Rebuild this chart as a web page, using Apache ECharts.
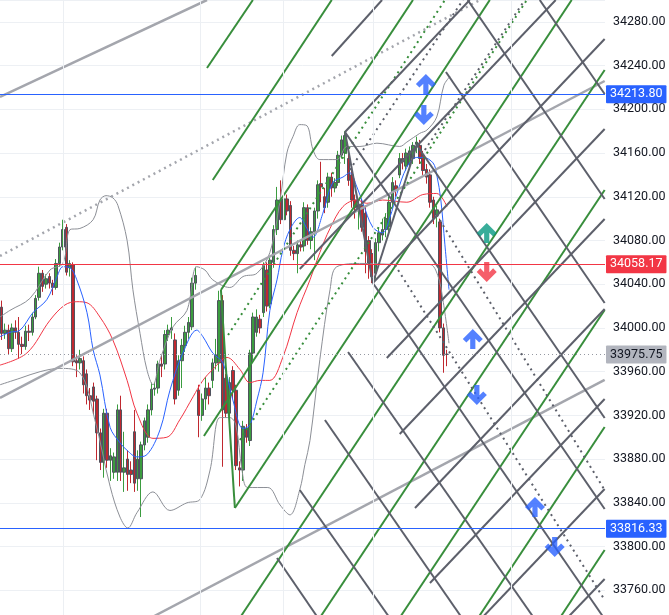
<!DOCTYPE html>
<html>
<head>
<meta charset="utf-8">
<script src="https://cdn.jsdelivr.net/npm/echarts@6/dist/echarts.min.js"></script>
<style>
  html, body { margin: 0; padding: 0; overflow: hidden; background: #fff; }
  #chart { width: 669px; height: 634px; }
</style>
</head>
<body>
<div id="chart"></div>
<script>
// candles: [open, close, low, high]
const candles = [
  [34019,33995,33989,34025],[33995,33998,33990,34004],[33998,33981,33976,34003],[33981,34000,33978,34004],
  [34000,33996,33990,34007],[33996,33985,33972,34010],[33985,33983,33976,33992],[33983,33997,33980,34002],
  [33997,33996,33988,34003],[33996,34010,33993,34014],[34010,34027,34008,34030],[34028,34050,34025,34056],
  [34050,34038,34033,34053],[34040,34045,34036,34049],[34047,34041,34036,34050],[34041,34037,34030,34044],
  [34037,34059,34035,34063],[34059,34074,34056,34078],[34074,34090,34071,34099],[34092,34051,34048,34095],
  [34055,34059,34047,34062],[34058,33969,33965,34060],[33970,33968,33955,33975],[33968,33972,33962,33980],
  [33970,33948,33940,33974],[33958,33938,33930,33962],[33938,33934,33925,33945],[33946,33933,33921,33950],
  [33935,33904,33879,33938],[33904,33877,33870,33908],[33877,33922,33863,33926],[33922,33879,33872,33926],
  [33879,33883,33860,33890],[33868,33882,33862,33886],[33868,33925,33860,33930],[33925,33868,33860,33938],
  [33868,33872,33850,33905],[33880,33866,33851,33888],[33870,33866,33858,33878],[33905,33858,33850,33925],
  [33862,33880,33851,33888],[33862,33893,33827,33896],[33893,33915,33888,33918],[33900,33925,33895,33930],
  [33925,33944,33920,33950],[33944,33945,33938,33950],[33945,33967,33940,33970],[33967,33965,33955,33975],
  [33967,33994,33962,33998],[33994,33998,33988,34003],[33998,34000,33990,34010],[33989,33935,33930,33995],
  [33943,33970,33938,33975],[33970,33984,33945,33990],[33984,33996,33978,34002],[33996,34005,33990,34010],
  [34001,34041,33998,34046],[34041,34048,34035,34056],[33943,33920,33900,33948],[33920,33935,33915,33940],
  [33935,33945,33925,33955],[33945,33938,33930,33950],[33952,33968,33945,33972],[33968,33975,33962,33990],
  [33968,34025,33960,34034],[34025,33925,33873,34030],[33954,33922,33918,33958],[33922,33950,33915,33955],
  [33961,33943,33935,33965],[33943,33874,33870,33948],[33872,33870,33855,33878],[33870,33910,33860,33915],
  [33908,33900,33895,33912],[33897,33977,33892,33980],[33977,34010,33970,34014],[33996,34010,33992,34017],
  [34008,34000,33995,34012],[34014,34057,34010,34060],[34053,34020,34015,34060],[34022,34062,34018,34066],
  [34060,34090,34055,34094],[34090,34117,34085,34129],[34117,34099,34095,34135],[34099,34118,34093,34120],
  [34118,34107,34103,34122],[34112,34071,34066,34116],[34071,34068,34062,34075],[34068,34076,34050,34080],
  [34076,34074,34070,34080],[34075,34110,34070,34115],[34110,34080,34076,34113],[34080,34088,34072,34092],
  [34088,34107,34062,34110],[34107,34131,34100,34135],[34132,34129,34115,34152],[34120,34110,34105,34128],
  [34115,34138,34110,34142],[34138,34128,34120,34142],[34128,34133,34124,34137],[34133,34158,34130,34162],
  [34158,34172,34155,34176],[34160,34176,34150,34180],[34155,34135,34130,34160],[34140,34117,34110,34144],
  [34117,34110,34100,34122],[34108,34113,34090,34117],[34112,34092,34088,34118],[34105,34070,34050,34112],
  [34080,34058,34045,34084],[34068,34047,34041,34072],[34050,34078,34045,34082],[34078,34087,34070,34092],
  [34085,34090,34080,34100],[34090,34100,34083,34105],[34093,34115,34088,34120],[34115,34133,34110,34138],
  [34130,34126,34120,34135],[34140,34155,34137,34160],[34155,34152,34145,34160],[34148,34160,34144,34164],
  [34150,34162,34146,34166],[34155,34167,34150,34170],[34168,34170,34160,34175],[34167,34155,34150,34172],
  [34158,34144,34140,34162],[34145,34138,34132,34150],[34140,34115,34110,34145],[34117,34100,34095,34120],
  [34103,34108,34092,34112],[34097,34000,33996,34100],[34000,33975,33959,34004],[33976,33975.75,33965,33980]
];
const barSlots = 178;   // candles + empty space on the right

// indicator curves, [bar index, price]
const fastMa = [[-0.5,33992],[2.4,33996],[5.4,33998],[9.2,34014],[13.3,34026],[16.3,34047],[18.0,34056],[20.1,34055],
  [22.1,34044],[25.1,34014],[26.9,33980],[28.9,33957],[31.9,33909],[34.8,33895],[36.9,33888],[39.8,33882],[42.7,33884],
  [46.6,33907],[49.5,33943],[53.3,33977],[57.4,33998],[59.2,33992],[62.1,33977],[65.1,33968],[68.0,33934],[71.0,33908],
  [73.0,33911],[75.1,33934],[76.9,33959],[78.9,34016],[81.0,34044],[82.7,34071],[84.8,34090],[87.7,34101],[89.8,34091],
  [91.6,34083],[94.5,34105],[97.4,34133],[100.4,34138],[102.4,34142],[104.5,34129],[106.3,34114],[109.2,34092],
  [112.1,34087],[114.2,34101],[116.3,34123],[119.2,34147],[122.1,34156],[123.9,34156],[126.9,34151],[128.0,34140],
  [129.2,34117],[130.4,34076],[131.6,34035]];
const slowMa = [[-0.5,33966],[7.4,33977],[14.2,34007],[18.6,34021],[22.1,34024],[25.1,34023],[28.9,34010],[32.7,33989],
  [36.9,33952],[39.8,33922],[44.5,33899],[48.6,33900],[52.4,33916],[56.3,33937],[59.2,33952],[62.1,33962],[66.3,33973],
  [70.1,33962],[73.0,33950],[76.0,33952],[78.9,33952],[82.7,33973],[86.9,34014],[90.7,34044],[93.6,34069],[96.6,34091],
  [100.4,34111],[104.5,34117],[107.4,34114],[112.1,34117],[119.2,34115],[123.9,34122],[128.0,34123],[131.0,34111]];
const bandUpper = [[-0.5,34010],[2.4,34016],[8.3,34027],[14.2,34053],[18.0,34059],[20.1,34090],[23.0,34091],[26.9,34099],
  [28.9,34117],[30.7,34121],[32.7,34119],[34.2,34112],[36.9,34080],[38.6,34035],[40.7,33995],[42.7,33962],[44.5,33948],
  [46.6,33971],[50.4,34001],[54.5,34016],[57.4,34056],[59.8,34053],[62.1,34044],[67.1,34037],[71.0,34047],[75.1,34050],
  [78.9,34069],[81.9,34117],[83.9,34160],[85.7,34175],[87.7,34186],[89.8,34185],[91.6,34163],[93.6,34154],[98.6,34154],
  [101.6,34166],[105.4,34166],[110.4,34169],[117.1,34166],[119.2,34170],[123.0,34178],[125.1,34181],[128.0,34193],
  [130.1,34222],[131.9,34230]];
const bandLower = [[-0.5,33948],[5.4,33954],[11.3,33960],[17.1,33963],[23.0,33959],[27.4,33916],[31.9,33855],[34.8,33827],
  [37.1,33817],[39.8,33831],[44.5,33850],[49.5,33833],[54.5,33840],[58.3,33843],[61.3,33870],[64.2,33918],[67.1,33918],
  [68.9,33911],[70.7,33870],[72.4,33854],[78.3,33854],[81.9,33838],[84.8,33829],[87.7,33852],[89.2,33875],[90.7,33897],
  [93.6,33971],[96.6,34035],[98.6,34056],[106.3,34059],[117.1,34058],[126.0,34058],[128.3,34048],[129.8,34026],[131.6,33986]];

// drawings, each [[bar, price], [bar, price]]
const greenLines = [
  [[60.4,34237.8],[73.9,34300]], [[62.1,34135.3],[97.1,34300]], [[64.5,34034.7],[68.6,33835.3]],
  [[64.5,34034.7],[121.0,34300]], [[68.6,33835.3],[167.7,34300]], [[59.5,33901.1],[143.6,34300]],
  [[66.9,33720],[177.4,34236.0]], [[90.4,33720],[177.4,34126.2]], [[113.9,33720],[177.4,34016.4]],
  [[137.0,33720],[177.4,33909.4]], [[161.1,33720],[177.4,33796.9]]
];
const greenDotted = [[[70.1,33897.5],[154.5,34300]], [[66.6,33993.5],[130.4,34300]]];
const darkLines = [
  [[101.0,34179.2],[109.2,34041.1]], [[109.2,34041.1],[122.1,34167.4]], [[97.1,34248.8],[111.9,34300]],
  [[101.0,34179.2],[137.7,34300]], [[87.7,34053.9],[163.0,34300]], [[109.2,34041.1],[177.4,34264.3]],
  [[113.3,33972.5],[177.4,34182.0]], [[117.1,33903.0],[177.4,34099.7]], [[121.6,33835.3],[177.4,34017.3]],
  [[126.0,33766.7],[177.4,33935.0]], [[136.8,33720],[177.4,33852.7]], [[161.9,33720],[177.4,33770.3]],
  [[158.3,34300],[177.4,34214.0]], [[137.1,34300],[177.4,34118.0]], [[130.7,34234.1],[177.4,34022.8]],
  [[122.1,34167.4],[177.4,33917.6]], [[101.0,34179.2],[177.4,33834.4]], [[109.2,34041.1],[177.4,33733.7]],
  [[101.9,33978.0],[159.9,33720]], [[95.1,33915.8],[138.7,33720]], [[87.7,33851.7],[117.5,33720]],
  [[81.0,33789.5],[96.3,33720]]
];
const darkDotted = [
  [[128.0,34103.3],[177.4,33851.7]], [[115.7,34057.6],[177.4,33751.1]],
  [[102.4,34144.5],[135.7,34300]], [[124.5,34162.8],[153.9,34300]]
];
const lightLines = [
  [[-0.5,34211.3],[60.4,34300]], [[-0.5,33935.9],[177.4,34225.9]], [[34.8,33720],[177.4,33952.4]]
];
const lightDotted = [[[-0.5,34065.8],[140.7,34300]]];

const arrowsUpBlue = [[124.8,34223.2],[138.6,33989.9],[156.9,33836.2]];
const arrowsDownBlue = [[124.2,34194.8],[139.8,33938.6],[162.7,33799.6]];
const arrowsUpTeal = [[142.7,34086.9]];
const arrowsDownRed = [[142.7,34051.2]];

const blueLevels = [34213.80, 33816.33];
const redLevels = [34058.17];
const lastPrice = 33975.75;
const timeBreaks = [18.0, 58.3, 82.7, 109.2, 149.8];

const C = {
  up: '#3b9c3f', down: '#c0282f', body: '#50535e',
  green: '#388e3c', dark: '#5d606b', light: '#a4a6ad', band: '#8c8f96',
  blue: '#2962ff', red: '#f23645', teal: '#089981'
};
const font = "Roboto, 'Noto Sans', sans-serif";
const arrowPath = 'path://M10 0 L20 10 L16.4 13.6 L12.6 9.8 L12.6 20 L7.4 20 L7.4 9.8 L3.6 13.6 L0 10 Z';
const dots = [2, 4];

let chart = echarts.init(document.getElementById('chart'), null, { renderer: 'canvas' });

function seg(data, color, width, type, z) {
  return {
    type: 'line', xAxisIndex: 1, data: data, symbol: 'none', silent: true, z: z,
    lineStyle: { color: color, width: width, type: type, cap: 'butt' }
  };
}

function curve(data, color, width) {
  let s = seg(data, color, width, 'solid', 3);
  s.smooth = 0.35;
  return s;
}

function arrows(data, color, rotate) {
  return {
    type: 'scatter', xAxisIndex: 1, data: data, symbol: arrowPath,
    symbolSize: [20, 20], symbolRotate: rotate, silent: true, z: 6,
    itemStyle: { color: color }
  };
}

function levelLabel(bg, fg) {
  return {
    show: true, position: 'end', distance: 1, formatter: (p) => p.value.toFixed(2),
    backgroundColor: bg, color: fg, padding: [3, 4, 2, 4], fontSize: 12.5, fontFamily: font,
    borderRadius: 1
  };
}

function buildChart() {
  const bodies = candles.map(([o, c]) => [o, c, Math.min(o, c), Math.max(o, c)]);
  const slots = Array.from({ length: barSlots }, (_, i) => String(i));

  const series = [
    {
      type: 'line', xAxisIndex: 1, data: [[0, 34000]], symbol: 'none', silent: true, z: 0,
      lineStyle: { width: 0 },
      markLine: {
        silent: true, symbol: 'none', label: { show: false },
        lineStyle: { color: '#eceff3', width: 1, type: 'solid' },
        data: timeBreaks.map(v => ({ xAxis: v }))
      }
    },
    {
      type: 'candlestick', data: candles, barWidth: 1, z: 2, silent: true,
      itemStyle: { color: C.up, color0: C.down, borderColor: C.up, borderColor0: C.down, borderWidth: 1 }
    },
    {
      type: 'candlestick', data: bodies, barWidth: 3, z: 2, silent: true,
      itemStyle: { color: C.up, color0: C.down, borderColor: C.body, borderColor0: C.body, borderWidth: 1 }
    },
    curve(bandUpper, C.band, 1),
    curve(bandLower, C.band, 1),
    curve(slowMa, C.red, 1),
    curve(fastMa, C.blue, 1)
  ];

  lightLines.forEach(l => series.push(seg(l, C.light, 2.5, 'solid', 4)));
  lightDotted.forEach(l => series.push(seg(l, C.light, 2.5, dots, 4)));
  greenLines.forEach(l => series.push(seg(l, C.green, 2, 'solid', 4)));
  greenDotted.forEach(l => series.push(seg(l, C.green, 2, dots, 4)));
  darkLines.forEach(l => series.push(seg(l, C.dark, 2, 'solid', 4)));
  darkDotted.forEach(l => series.push(seg(l, C.dark, 2, dots, 4)));

  series.push({
    type: 'line', xAxisIndex: 1, data: [[0, 34000]], symbol: 'none', silent: true, z: 5,
    lineStyle: { width: 0 },
    markLine: {
      silent: true, symbol: 'none', animation: false,
      data: [
        ...blueLevels.map(v => ({ yAxis: v, lineStyle: { color: C.blue, width: 1, type: 'solid' }, label: levelLabel(C.blue, '#fff') })),
        ...redLevels.map(v => ({ yAxis: v, lineStyle: { color: C.red, width: 1, type: 'solid' }, label: levelLabel(C.red, '#fff') })),
        { yAxis: lastPrice, lineStyle: { color: '#9598a1', width: 1, type: [1, 3] }, label: levelLabel('#b2b5be', '#131722') }
      ]
    }
  });

  series.push(arrows(arrowsUpBlue, C.blue, 0));
  series.push(arrows(arrowsDownBlue, C.blue, 180));
  series.push(arrows(arrowsUpTeal, C.teal, 0));
  series.push(arrows(arrowsDownRed, C.red, 180));

  return {
    animation: false,
    backgroundColor: '#ffffff',
    textStyle: { fontFamily: font },
    grid: { left: 0, right: 64, top: 0, bottom: 0 },
    xAxis: [
      { type: 'category', data: slots, boundaryGap: true, show: false },
      { type: 'value', min: -0.5, max: barSlots - 0.5, show: false }
    ],
    yAxis: {
      type: 'value', position: 'right', min: 33720, max: 34300, interval: 40,
      axisLine: { show: false }, axisTick: { show: false },
      splitLine: { lineStyle: { color: '#edf0f4', width: 1 } },
      axisLabel: {
        color: '#131722', fontSize: 12.5, fontFamily: font, margin: 8,
        showMinLabel: false, showMaxLabel: false,
        formatter: (v) => v.toFixed(2)
      }
    },
    series: series
  };
}

chart.setOption(buildChart());
</script>
</body>
</html>
